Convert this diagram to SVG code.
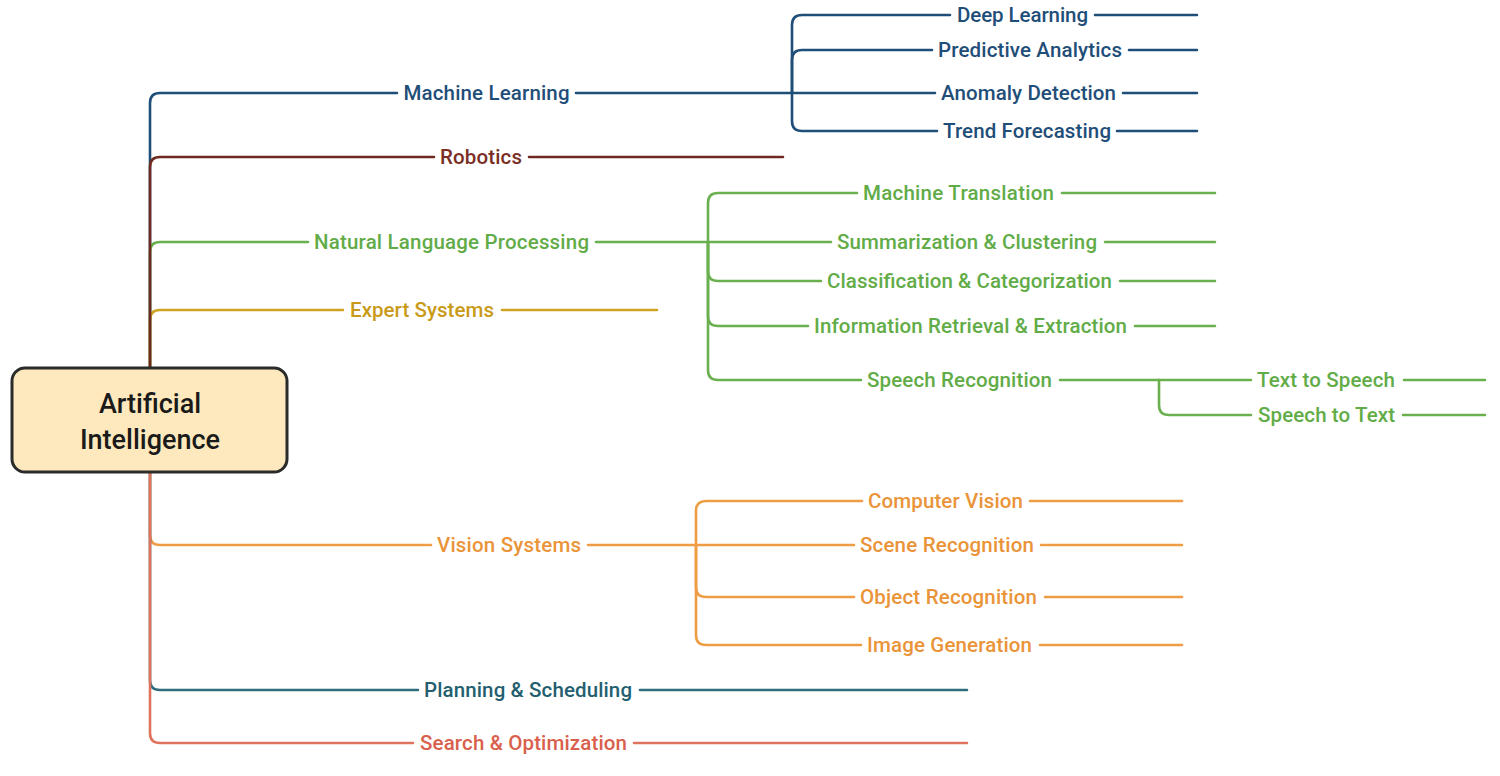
<svg xmlns="http://www.w3.org/2000/svg" width="1500" height="776" viewBox="0 0 1500 776">
<style>
.c{fill:none;stroke-width:2.6;stroke-linecap:round;stroke-linejoin:round}
.t{font-family:Roboto,"Liberation Sans",sans-serif;font-size:20.5px;font-weight:500;text-anchor:middle}
.ml{stroke:#1f4e79}.mlt{fill:#1f4e79}
.rb{stroke:#6e2a20}.rbt{fill:#7a2e24}
.nl{stroke:#6ab04f}.nlt{fill:#62ac48}
.ex{stroke:#cfa220}.ext{fill:#c99a18}
.vs{stroke:#ef9d44}.vst{fill:#ea9439}
.ps{stroke:#2e6d7e}.pst{fill:#245f70}
.so{stroke:#e0735d}.sot{fill:#d9604c}
</style>
<rect width="1500" height="776" fill="#ffffff"/>
<g id="connectors">
<path class="c ml" d="M150,368 V103 Q150,93 160,93 H397 M576,93 H792"/>
<path class="c ml" d="M792,93 V25 Q792,15 802,15 H950 M1095,15 H1197"/>
<path class="c ml" d="M792,93 V60 Q792,50 802,50 H932 M1129,50 H1197"/>
<path class="c ml" d="M792,93 H935 M1123,93 H1197"/>
<path class="c ml" d="M792,93 V121 Q792,131 802,131 H937 M1117,131 H1197"/>
<path class="c nl" d="M150,368 V252 Q150,242 160,242 H308 M596,242 H708"/>
<path class="c nl" d="M708,242 V203 Q708,193 718,193 H857 M1062,193 H1215"/>
<path class="c nl" d="M708,242 H831 M1105,242 H1215"/>
<path class="c nl" d="M708,242 V271 Q708,281 718,281 H821 M1120,281 H1215"/>
<path class="c nl" d="M708,242 V316 Q708,326 718,326 H808 M1135,326 H1215"/>
<path class="c nl" d="M708,242 V370 Q708,380 718,380 H861 M1060,380 H1159"/>
<path class="c nl" d="M1159,380 H1251 M1404,380 H1485"/>
<path class="c nl" d="M1159,380 V405 Q1159,415 1169,415 H1251 M1403,415 H1485"/>
<path class="c ex" d="M150,368 V320 Q150,310 160,310 H343 M502,310 H657"/>
<path class="c rb" d="M150,368 V167 Q150,157 160,157 H434 M529,157 H783"/>
<path class="c vs" d="M150,472 V535 Q150,545 160,545 H431 M588,545 H696"/>
<path class="c vs" d="M696,545 V511 Q696,501 706,501 H862 M1030,501 H1182"/>
<path class="c vs" d="M696,545 H854 M1041,545 H1182"/>
<path class="c vs" d="M696,545 V587 Q696,597 706,597 H854 M1045,597 H1182"/>
<path class="c vs" d="M696,545 V635 Q696,645 706,645 H861 M1040,645 H1182"/>
<path class="c ps" d="M150,472 V680 Q150,690 160,690 H418 M640,690 H967"/>
<path class="c so" d="M150,472 V733 Q150,743 160,743 H413 M634,743 H967"/>
</g>
<g id="root">
<rect x="12" y="368" width="275" height="104" rx="13" fill="#fde9bd" stroke="#2b2b2b" stroke-width="3"/>
<text x="150" y="413" font-family="Roboto,'Liberation Sans',sans-serif" font-size="27" font-weight="500" text-anchor="middle" fill="#1a1a1a">Artificial</text>
<text x="150" y="449" font-family="Roboto,'Liberation Sans',sans-serif" font-size="27" font-weight="500" text-anchor="middle" fill="#1a1a1a">Intelligence</text>
</g>
<g id="machine-learning"><text class="t mlt" x="486.5" y="100" textLength="166" lengthAdjust="spacing">Machine Learning</text></g>
<g id="deep-learning"><text class="t mlt" x="1022.5" y="22" textLength="131" lengthAdjust="spacing">Deep Learning</text></g>
<g id="predictive-analytics"><text class="t mlt" x="1030" y="57" textLength="184" lengthAdjust="spacing">Predictive Analytics</text></g>
<g id="anomaly-detection"><text class="t mlt" x="1028.5" y="100" textLength="175" lengthAdjust="spacing">Anomaly Detection</text></g>
<g id="trend-forecasting"><text class="t mlt" x="1027" y="138" textLength="168" lengthAdjust="spacing">Trend Forecasting</text></g>
<g id="robotics"><text class="t rbt" x="481" y="164" textLength="82" lengthAdjust="spacing">Robotics</text></g>
<g id="nlp"><text class="t nlt" x="451.5" y="249" textLength="275" lengthAdjust="spacing">Natural Language Processing</text></g>
<g id="machine-translation"><text class="t nlt" x="958.5" y="200" textLength="191" lengthAdjust="spacing">Machine Translation</text></g>
<g id="summarization"><text class="t nlt" x="967" y="249" textLength="260" lengthAdjust="spacing">Summarization &amp; Clustering</text></g>
<g id="classification"><text class="t nlt" x="969.5" y="288" textLength="285" lengthAdjust="spacing">Classification &amp; Categorization</text></g>
<g id="information-retrieval"><text class="t nlt" x="970.5" y="333" textLength="313" lengthAdjust="spacing">Information Retrieval &amp; Extraction</text></g>
<g id="speech-recognition"><text class="t nlt" x="959.5" y="387" textLength="185" lengthAdjust="spacing">Speech Recognition</text></g>
<g id="text-to-speech"><text class="t nlt" x="1326" y="387" textLength="138" lengthAdjust="spacing">Text to Speech</text></g>
<g id="speech-to-text"><text class="t nlt" x="1326.5" y="422" textLength="137" lengthAdjust="spacing">Speech to Text</text></g>
<g id="expert-systems"><text class="t ext" x="422" y="317" textLength="144" lengthAdjust="spacing">Expert Systems</text></g>
<g id="vision-systems"><text class="t vst" x="509" y="552" textLength="144" lengthAdjust="spacing">Vision Systems</text></g>
<g id="computer-vision"><text class="t vst" x="945.5" y="508" textLength="155" lengthAdjust="spacing">Computer Vision</text></g>
<g id="scene-recognition"><text class="t vst" x="947" y="552" textLength="174" lengthAdjust="spacing">Scene Recognition</text></g>
<g id="object-recognition"><text class="t vst" x="948.5" y="604" textLength="177" lengthAdjust="spacing">Object Recognition</text></g>
<g id="image-generation"><text class="t vst" x="949.5" y="652" textLength="165" lengthAdjust="spacing">Image Generation</text></g>
<g id="planning-scheduling"><text class="t pst" x="528" y="697" textLength="208" lengthAdjust="spacing">Planning &amp; Scheduling</text></g>
<g id="search-optimization"><text class="t sot" x="523.5" y="750" textLength="207" lengthAdjust="spacing">Search &amp; Optimization</text></g>
</svg>
